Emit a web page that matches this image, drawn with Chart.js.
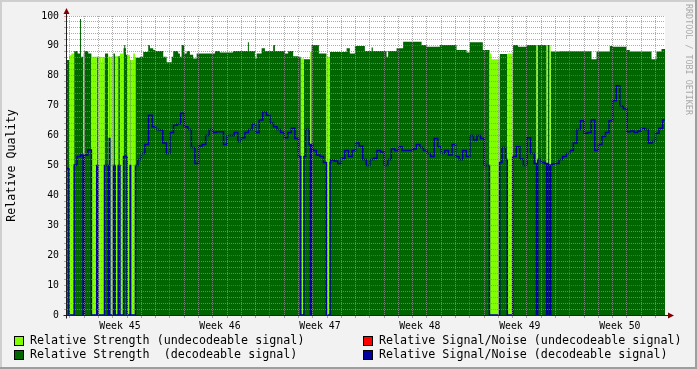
<!DOCTYPE html>
<html>
<head>
<meta charset="utf-8">
<script src="https://cdn.jsdelivr.net/npm/chart.js@4.4.1/dist/chart.umd.min.js"></script>
<style>
  html, body { margin: 0; padding: 0; background: #f2f2f2; }
  canvas { display: block; }
</style>
</head>
<body>
<canvas id="chart" width="697" height="369"></canvas>
<script>
// time is in hours since Monday 00:00 of week 45

// relative signal/noise of the decodeable signal, one value per 6 h slot
const snrStart = -6;
const snrStep = 6;
const snrDecodeable = [
  49,
  50, 50.2, 53, 53.5,   53.5, 55.2, 50, 50,   50, 50, 50, 59,   50, 50, 50, 53,
  50, 50, 50, 52,       54, 57, 66.8, 63,     62, 61.9, 57.5, 54,
  61, 63.5, 64, 67.5,   63, 62, 56, 50.7,     56.5, 57, 60, 62,  61, 61.3, 61.3, 57,
  60, 60, 61, 58,       59.3, 61, 62, 63.9,   61, 65.2, 68, 66.8,
  64.1, 63, 62, 61,     59.3, 61, 62.5, 59,   53, 53, 62, 57,    55, 53.5, 53, 51,
  51, 51.8, 51.5, 50.7, 52.4, 55, 53, 55,     57.5, 56.5, 52, 50,
  52, 52.4, 55, 54.5,   50, 52, 55.5, 55,     56.3, 55, 55, 55,  55.5, 57, 56, 55,
  54, 53, 59, 56.3,     54, 55, 53.5, 57,     53, 52, 55, 53,
  60, 58.5, 60, 59,     50, 50, 50, 50,       51, 56, 52, 52,    53, 56.3, 52.2, 50,
  59.3, 54, 50.7, 52,   51, 50.7, 50.2, 50.5, 50.7, 52, 53, 54,
  55, 57.5, 62, 65,     60.8, 61, 65.2, 55,   57, 59.7, 61, 65,  71.7, 76.7, 70, 69,
  61.3, 61.5, 61, 61.5, 62.4, 62, 57.5, 58,   60.8, 62.5, 65.2, 65
];

// relative strength as steps: strengthLevel[i] holds until strengthEnd[i]
const strengthEnd = [
  -1.2, 2.2, 6.7, 12.9, 16.8, 18.5, 22.3, 24, 30.7, 36.5, 52.1, 53.3, 58.8, 64.3,
  72.7, 75.6, 84, 89.5, 91.2, 92.9, 94.1, 100.8, 106.3, 109.2, 117.6, 123.1, 131.5,
  134.4, 139.9, 142.8, 156.7, 162.5, 170.9, 173.5, 181.9, 184.8, 187.6, 192, 196.1,
  201.6, 207.1, 212.9, 243.6, 252, 273.8, 299, 300.7, 310.8, 313.7, 322.1, 327.6,
  341.5, 344.4, 361.2, 366.7, 375.1, 383.5, 387.6, 393.1, 403.7, 406.1, 418.3, 431.3,
  436.8, 464.9, 470.4, 478.8, 495.6, 506.9, 509, 532.1, 534.7, 548.9, 559.9, 590.9,
  599.3, 621.6, 649.7, 666.5, 672, 693.8, 705.1, 708.5, 722.4, 736.3, 744.7, 753.1,
  767.3, 784.1, 785.7, 807.6, 823.2, 876.5, 884.9, 907.2, 912.7, 935.3, 940.8,
  977.3, 985.7, 994.1, 1001.3
];
const strengthLevel = [
  85.3, 86.9, 87.5, 88.3, 87.5, 99, 86.4, 87.5, 88.3, 87.5, 86.4, 84.5, 86.2, 87.5,
  86.4, 87.5, 86.5, 87.5, 89.2, 90.3, 89.2, 87, 85.3, 87.5, 86, 86.4, 88,
  90.3, 89.2, 88.6, 88.3, 86.4, 84.5, 86.4, 88.3, 87.5, 86.4, 90.3, 87.5,
  88.3, 87, 85.8, 87.5, 88.3, 87.8, 88.3, 91.2, 88.3, 85.8, 87.5, 89.2,
  88.3, 90.3, 88.3, 87.5, 88.3, 86.5, 86.4, 85.8, 85.5, 88, 90.3, 87.5,
  86.4, 88, 89.2, 87.5, 90, 88.3, 89.5, 88.3, 86.4, 88.3, 89.2, 91.4,
  90.3, 89.7, 90.3, 88.6, 87.8, 91.2, 88.6, 87.5, 85.5, 87.3, 87.5, 90.3,
  89.7, 90.3, 90, 90.3, 88.1, 88.2, 85.5, 88.1, 90, 89.7, 88.6,
  88.1, 85.5, 88.1, 89
];

// spans (hours) where the signal could not be decoded
const undecFrom = [-1.5, 22, 36, 47, 64, 67, 76, 84, 96, 102, 388, 404, 431, 705, 735, 784, 801, 806];
const undecTo   = [7, 24, 45, 58, 66, 73, 81, 90, 101, 110, 393, 405.5, 437, 722, 744, 786, 803, 808];
const undecSnr  = [0, 0, 0, 0, 50, 0, 0, 0, 0, 0, 0, 0, 0, 0, 0, 0, 0, 0];

const weekLabels = ['Week 45', 'Week 46', 'Week 47', 'Week 48', 'Week 49', 'Week 50'];
const legendText = [
  'Relative Strength (undecodeable signal)',
  'Relative Signal/Noise (undecodeable signal)',
  'Relative Strength  (decodeable signal)',
  'Relative Signal/Noise (decodeable signal)'
];

const DARK = '#006600';
const LIGHT = '#80ff00';
const BLUE = '#00009c';
const RED = '#ff0000';
const GRID = 'rgba(143,143,143,0.75)';
const MGRID = 'rgba(222,79,79,0.6)';
const MONO = 'DejaVu Sans Mono';
const xMin = -5, xMax = 1000;

function undecIndex(t) {
  for (let k = 0; k < undecFrom.length; k++) {
    if (t >= undecFrom[k] && t < undecTo[k]) return k;
  }
  return -1;
}
function strengthAt(t) {
  for (let k = 0; k < strengthEnd.length; k++) {
    if (t < strengthEnd[k]) return strengthLevel[k];
  }
  return strengthLevel[strengthLevel.length - 1];
}
function snrAt(t) {
  let i = Math.floor((t - snrStart) / snrStep);
  i = Math.max(0, Math.min(snrDecodeable.length - 1, i));
  return snrDecodeable[i];
}

// build step points: value holds from one break to the next
function steps(breaks, valueAt) {
  const xs = [...new Set(breaks.filter(t => t > xMin && t < xMax).concat([xMin, xMax]))]
    .sort((a, b) => a - b);
  const pts = [];
  for (let k = 0; k < xs.length - 1; k++) {
    pts.push({ x: xs[k], y: valueAt((xs[k] + xs[k + 1]) / 2) });
  }
  pts.push({ x: xMax, y: pts[pts.length - 1].y });
  return pts;
}

const segBreaks = undecFrom.concat(undecTo);
const sampleBreaks = snrDecodeable.map((v, i) => snrStart + snrStep * i);

const darkPts = steps(strengthEnd.concat(segBreaks), t => undecIndex(t) < 0 ? strengthAt(t) : 0);
const lightPts = steps(strengthEnd.concat(segBreaks), t => undecIndex(t) < 0 ? 0 : strengthAt(t));
const bluePts = steps(sampleBreaks.concat(segBreaks), t => undecIndex(t) < 0 ? snrAt(t) : 0);
const redPts = [];
undecSnr.forEach((v, k) => {
  if (v > 0) {
    redPts.push({ x: undecFrom[k], y: 0 }, { x: undecFrom[k], y: v },
                { x: undecTo[k], y: v }, { x: undecTo[k], y: 0 }, { x: undecTo[k], y: null });
  }
});

const frame = {
  id: 'frame',
  beforeDraw(chart) {
    const { ctx, width, height, chartArea: a } = chart;
    ctx.save();
    ctx.fillStyle = '#f2f2f2';
    ctx.fillRect(0, 0, width, height);
    ctx.fillStyle = '#cfcfcf';
    ctx.fillRect(0, 0, width, 2);
    ctx.fillRect(0, 0, 2, height);
    ctx.fillStyle = '#9e9e9e';
    ctx.fillRect(0, height - 2, width, 2);
    ctx.fillRect(width - 2, 0, 2, height);
    ctx.fillStyle = '#ffffff';
    ctx.fillRect(a.left, a.top, a.right - a.left, a.bottom - a.top);
    ctx.restore();
  },
  afterDraw(chart) {
    const { ctx, chartArea: a } = chart;
    ctx.save();
    // axes
    const ax = a.left - 0.5, ay = a.bottom + 0.5;
    ctx.strokeStyle = '#1f1f1f';
    ctx.lineWidth = 1;
    ctx.beginPath();
    ctx.moveTo(ax, ay + 3);
    ctx.lineTo(ax, a.top - 4);
    ctx.moveTo(ax - 3, ay);
    ctx.lineTo(a.right + 5, ay);
    ctx.stroke();
    ctx.fillStyle = '#800000';
    ctx.beginPath();
    ctx.moveTo(ax, a.top - 8);
    ctx.lineTo(ax - 3, a.top - 2);
    ctx.lineTo(ax + 3, a.top - 2);
    ctx.closePath();
    ctx.fill();
    ctx.beginPath();
    ctx.moveTo(a.right + 9, ay);
    ctx.lineTo(a.right + 3, ay - 3);
    ctx.lineTo(a.right + 3, ay + 3);
    ctx.closePath();
    ctx.fill();

    // legend
    const colors = [LIGHT, RED, DARK, BLUE];
    ctx.font = '11.7px "' + MONO + '"';
    ctx.textBaseline = 'middle';
    legendText.forEach((txt, i) => {
      const bx = i % 2 === 0 ? 15 : 364;
      const by = i < 2 ? 341 : 355;
      ctx.fillStyle = colors[i];
      ctx.fillRect(bx, by - 4, 8, 8);
      ctx.strokeStyle = '#000';
      ctx.strokeRect(bx - 0.5, by - 4.5, 9, 9);
      ctx.fillStyle = '#000';
      ctx.fillText(txt, bx + 15, by);
    });

    // watermark
    ctx.translate(688, 4);
    ctx.rotate(Math.PI / 2);
    ctx.font = '8.4px "' + MONO + '"';
    ctx.fillStyle = '#a9a9a9';
    ctx.textAlign = 'left';
    ctx.fillText('RRDTOOL / TOBI OETIKER', 0, 0);
    ctx.restore();
  }
};

function xGridColor(v) {
  if (v % 168 === 0) return MGRID;
  if (v % 24 === 0) return GRID;
  return 'rgba(0,0,0,0)';
}

new Chart(document.getElementById('chart'), {
  type: 'line',
  data: {
    datasets: [
      { data: bluePts, borderColor: BLUE, borderWidth: 1.5, stepped: true, fill: false },
      { data: redPts, borderColor: RED, borderWidth: 1.2, fill: false, spanGaps: false },
      { data: lightPts, borderColor: 'rgba(0,0,0,0)', borderWidth: 0, backgroundColor: LIGHT, stepped: true, fill: 'origin' },
      { data: darkPts, borderColor: 'rgba(0,0,0,0)', borderWidth: 0, backgroundColor: DARK, stepped: true, fill: 'origin' }
    ]
  },
  options: {
    responsive: false,
    animation: false,
    devicePixelRatio: 1,
    layout: { padding: { left: 0, top: 16, right: 32, bottom: 0 } },
    elements: { point: { radius: 0 }, line: { tension: 0 } },
    plugins: { legend: { display: false }, tooltip: { enabled: false } },
    scales: {
      x: {
        type: 'linear',
        min: xMin,
        max: xMax,
        afterBuildTicks(scale) {
          const t = [];
          for (let h = 0; h <= xMax; h += 12) t.push({ value: h });
          scale.ticks = t;
        },
        afterFit(scale) { scale.height = 54; },
        grid: {
          z: 1,
          lineWidth: 1,
          tickLength: 3,
          color: c => xGridColor(c.tick.value),
          tickColor: c => xGridColor(c.tick.value)
        },
        border: { display: false, dash: [1, 1] },
        ticks: {
          autoSkip: false,
          maxRotation: 0,
          minRotation: 0,
          padding: 3,
          color: '#000',
          font: { family: MONO, size: 9.8 },
          callback: v => ((v - 84) % 168 === 0 ? weekLabels[(v - 84) / 168] : '')
        }
      },
      y: {
        min: 0,
        max: 100,
        afterBuildTicks(scale) {
          const t = [];
          for (let v = 0; v <= 100; v += 2) t.push({ value: v });
          scale.ticks = t;
        },
        afterFit(scale) { scale.width = 67; },
        grid: {
          z: 1,
          lineWidth: 1,
          tickLength: 3,
          color: c => (c.tick.value % 10 === 0 ? MGRID : GRID),
          tickColor: c => (c.tick.value % 10 === 0 ? MGRID : GRID)
        },
        border: { display: false, dash: [1, 1] },
        ticks: {
          autoSkip: false,
          padding: 5,
          color: '#000',
          font: { family: MONO, size: 9.8 },
          callback: v => (v % 10 === 0 ? String(v) : '')
        },
        title: {
          display: true,
          text: 'Relative Quality',
          color: '#000',
          font: { family: MONO, size: 11.7 },
          padding: { top: 5, bottom: 0 }
        }
      }
    }
  },
  plugins: [frame]
});
</script>
</body>
</html>
